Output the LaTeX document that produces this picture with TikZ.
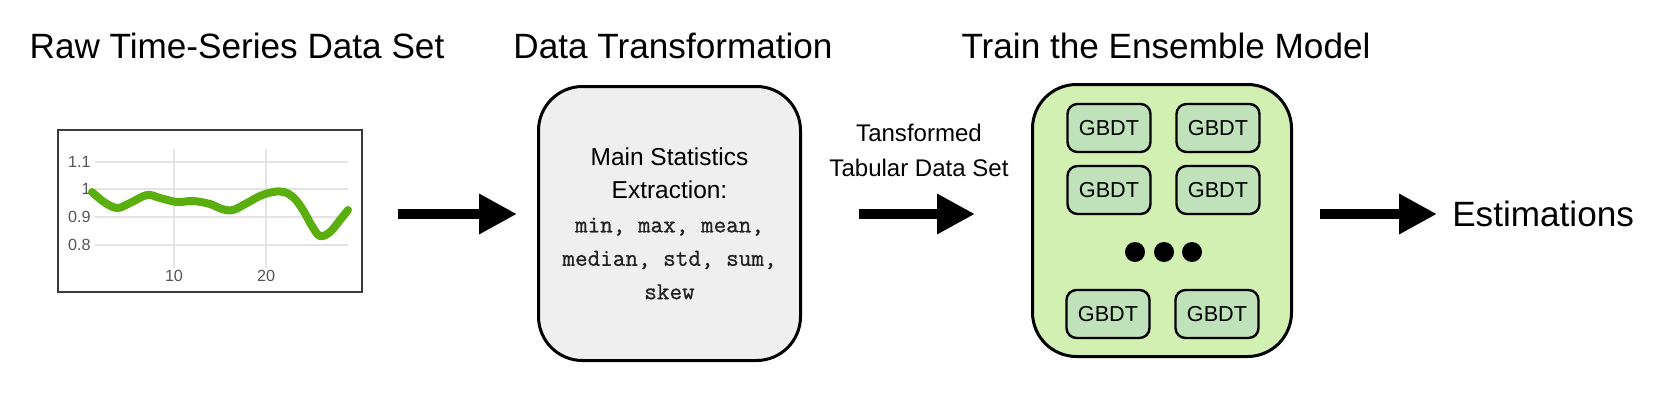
\documentclass[tikz,border=0pt]{standalone}
\usepackage{fontspec}
\setmainfont{Liberation Sans}
\newfontfamily\statfont[FakeBold=0.9]{Latin Modern Mono}
\usepackage{tikz}
\usetikzlibrary{positioning,arrows.meta}
\usepackage{xcolor}
\definecolor{boxgray}{HTML}{EFEFEF}
\definecolor{ensgreen}{HTML}{D3F0B3}
\definecolor{treegreen}{HTML}{BFE2BB}
\definecolor{curvegreen}{HTML}{5AAE0E}
\definecolor{gridgray}{HTML}{E4E4E4}
\definecolor{tickgray}{HTML}{555555}
\definecolor{framegray}{HTML}{3A3A3A}
\definecolor{stattext}{HTML}{222222}

\begin{document}
\begin{tikzpicture}[x=0.25mm, y=-0.25mm,
                    heading/.style={font=\fontsize{25}{30}\selectfont, anchor=base, inner sep=0},
                    bigbox/.style={draw, line width=0.75mm, rounded corners=11mm, align=center},
                    gbdt/.style={draw, line width=0.6mm, rounded corners=2.5mm, fill=treegreen,
                                 minimum width=20.75mm, minimum height=12mm, inner sep=0,
                                 font=\fontsize{15.4}{18}\selectfont},
                    ticklabel/.style={text=tickgray, font=\fontsize{11.5}{13}\selectfont, inner sep=0},
                    gridline/.style={gridgray, line width=0.3mm},
                    bigarrow/.style={line width=2.5mm, -{Triangle[length=9.5mm,width=9.5mm]}}]
                \useasboundingbox (0,0) rectangle (1660,408);
                \coordinate (mid) at (0,214);

                % titles
                \node[heading] (rawtitle) at (237,58) {Raw Time-Series Data Set};
                \node[heading] (transtitle) at (673,58) {Data Transformation};
                \node[heading] (enstitle) at (1166,58) {Train the Ensemble Model};

                % raw time series chart
                \node[draw=framegray, line width=0.6mm, minimum width=76mm, minimum height=40.5mm,
                      inner sep=0] (chart) at (210,211) {};
                \foreach \gy in {162,189,217,245}
                    \draw[gridline] (95,\gy) -- (348,\gy);
                \foreach \gx in {174,266}
                    \draw[gridline] (\gx,149) -- (\gx,268);
                \foreach \val/\gy [count=\i] in {1.1/162,1/189,0.9/217,0.8/245}
                    \node[ticklabel, anchor=east] (ytick\i) at (91,\gy) {\val};
                \foreach \val/\gx [count=\i] in {10/174,20/266}
                    \node[ticklabel] (xtick\i) at (\gx,276) {\val};
                \draw[curvegreen, line width=2mm, line cap=round]
                    plot[smooth, tension=0.6] coordinates {(92,192) (104,202) (117,208) (130,203)
                        (147,195) (160,198) (177,202) (193,201) (210,204) (222,209) (233,210)
                        (247,203) (260,196) (273,192) (284,192) (294,198) (303,210) (312,226)
                        (320,236) (330,232) (340,220) (348,210)};

                % data transformation
                \node[bigbox, fill=boxgray, minimum width=65.5mm, minimum height=68.5mm,
                      font=\fontsize{17.4}{23.8}\selectfont] (trans) at (669.5,223.5)
                    {Main Statistics\\ Extraction:\\ {\statfont\color{stattext} min, max, mean,}\\
                     {\statfont\color{stattext} median, std, sum,}\\ {\statfont\color{stattext} skew}};

                \node[align=center, font=\fontsize{17.1}{24.9}\selectfont] (tablbl) at (919,150.5)
                    {Tansformed\\ Tabular Data Set};

                % ensemble of GBDTs
                \node[bigbox, fill=ensgreen, minimum width=64.75mm, minimum height=68mm]
                    (gbox) at (1162,220.5) {};
                \node[gbdt] (g11) at (1109,128) {GBDT};
                \node[gbdt] (g12) at (1218,128) {GBDT};
                \node[gbdt] (g21) at (1109,190) {GBDT};
                \node[gbdt] (g22) at (1218,190) {GBDT};
                \node[gbdt] (g31) at (1108,314) {GBDT};
                \node[gbdt] (g32) at (1217,314) {GBDT};
                \foreach \dx [count=\i] in {1135,1164,1192}
                    \node[circle, fill, inner sep=0, minimum size=5mm] (dot\i) at (\dx,252) {};

                \node[anchor=west, inner sep=0, font=\fontsize{25}{30}\selectfont] (est) at (1452,214)
                    {Estimations};

                % arrows
                \draw[bigarrow, shorten <=8.75mm, shorten >=5mm] (chart.east |- mid) -- (trans.west |- mid);
                \draw[bigarrow, shorten <=14.25mm, shorten >=14mm] (trans.east |- mid) -- (gbox.west |- mid);
                \draw[bigarrow, shorten <=6.75mm, shorten >=3.75mm] (gbox.east |- mid) -- (est.west);
\end{tikzpicture}
\end{document}
